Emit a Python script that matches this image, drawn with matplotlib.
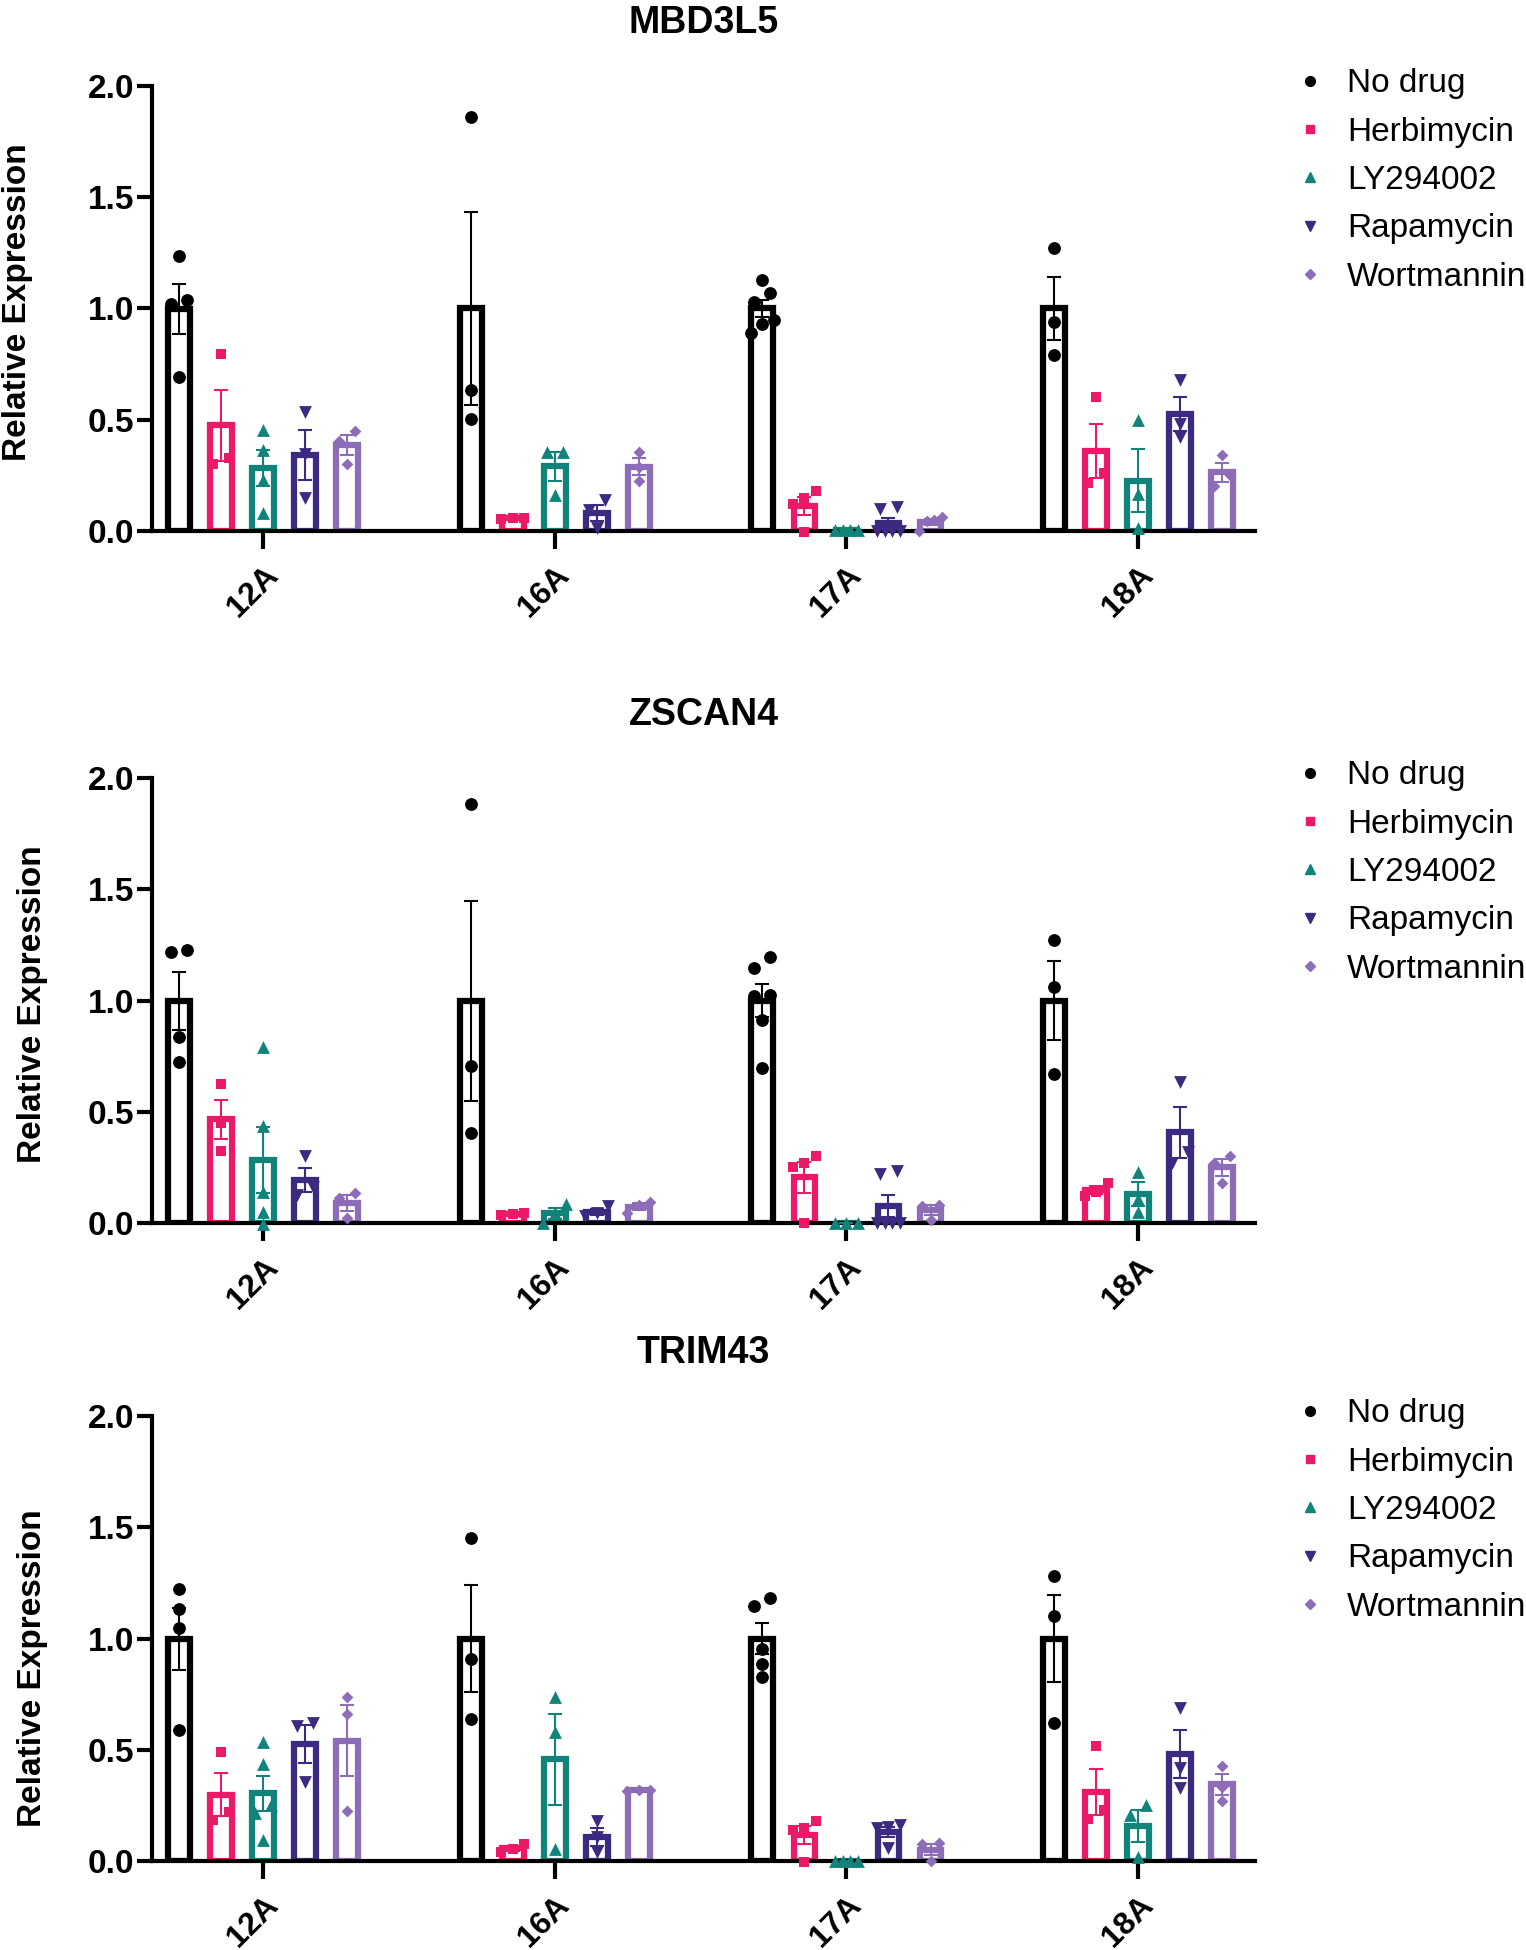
import matplotlib
matplotlib.use("Agg")
import matplotlib.pyplot as plt
from matplotlib.lines import Line2D
import numpy as np

plt.rcParams['font.family'] = ['Liberation Sans', 'DejaVu Sans']

cell_lines = ["12A", "16A", "17A", "18A"]
treatments = ["No drug", "Herbimycin", "LY294002", "Rapamycin", "Wortmannin"]
colors = ["#000000", "#EC1868", "#10837A", "#3C2A80", "#8D6DB8"]
markers = ["o", "s", "^", "v", "D"]

# replicate values per cell line (12A, 16A, 17A, 18A)
mbd3l5_no_drug = [[1.235, 1.04, 1.02, 0.69], [1.86, 0.635, 0.505],
                  [1.13, 1.07, 1.03, 0.95, 0.93, 0.89], [1.27, 0.94, 0.79]]
mbd3l5_herbimycin = [[0.795, 0.33, 0.30], [0.06, 0.055, 0.058],
                     [0.18, 0.15, 0.12, -0.005], [0.60, 0.26, 0.215]]
mbd3l5_ly294002 = [[0.455, 0.364, 0.227, 0.083], [0.356, 0.356, 0.162],
                   [0.005, 0.004, 0.006, 0.003], [0.497, 0.167, 0.015]]
mbd3l5_rapamycin = [[0.535, 0.345, 0.148], [0.139, 0.094, 0.015],
                    [0.11, 0.10, 0.0, 0.0, 0.0, 0.0], [0.677, 0.48, 0.424]]
mbd3l5_wortmannin = [[0.45, 0.406, 0.303], [0.356, 0.288, 0.225],
                     [0.065, 0.05, 0.045, 0.0], [0.34, 0.25, 0.20]]

zscan4_no_drug = [[1.216, 1.228, 0.834, 0.722], [1.884, 0.706, 0.405],
                  [1.195, 1.147, 1.026, 1.022, 0.914, 0.696], [1.27, 1.06, 0.67]]
zscan4_herbimycin = [[0.627, 0.45, 0.325], [0.045, 0.04, 0.035],
                     [0.30, 0.27, 0.25, 0.0], [0.18, 0.14, 0.12]]
zscan4_ly294002 = [[0.79, 0.436, 0.14, 0.05, -0.005], [0.085, 0.045, 0.0],
                   [0.0, 0.0, 0.0], [0.23, 0.11, 0.05]]
zscan4_rapamycin = [[0.30, 0.16, 0.125], [0.076, 0.045, 0.03],
                    [0.235, 0.22, 0.0, 0.0, 0.0, 0.0], [0.635, 0.32, 0.27]]
zscan4_wortmannin = [[0.136, 0.113, 0.023], [0.094, 0.083, 0.045],
                     [0.083, 0.076, 0.015], [0.303, 0.27, 0.179]]

trim43_no_drug = [[1.221, 1.135, 1.047, 0.589], [1.452, 0.909, 0.637],
                  [1.183, 1.146, 0.955, 0.888, 0.828], [1.28, 1.10, 0.62]]
trim43_herbimycin = [[0.49, 0.22, 0.185], [0.075, 0.055, 0.04],
                     [0.18, 0.15, 0.14, -0.005], [0.515, 0.23, 0.19]]
trim43_ly294002 = [[0.533, 0.436, 0.25, 0.215, 0.093], [0.736, 0.58, 0.056],
                   [0.0, 0.0, 0.0, 0.0], [0.253, 0.208, 0.018]]
trim43_rapamycin = [[0.62, 0.607, 0.355], [0.18, 0.11, 0.04],
                    [0.16, 0.155, 0.15, 0.06], [0.69, 0.42, 0.33]]
trim43_wortmannin = [[0.736, 0.663, 0.226], [0.32, 0.32, 0.315],
                     [0.08, 0.075, 0.0], [0.428, 0.335, 0.27]]

genes = [
    ("MBD3L5", [mbd3l5_no_drug, mbd3l5_herbimycin, mbd3l5_ly294002, mbd3l5_rapamycin, mbd3l5_wortmannin]),
    ("ZSCAN4", [zscan4_no_drug, zscan4_herbimycin, zscan4_ly294002, zscan4_rapamycin, zscan4_wortmannin]),
    ("TRIM43", [trim43_no_drug, trim43_herbimycin, trim43_ly294002, trim43_rapamycin, trim43_wortmannin]),
]

scatter_sizes = [85, 60, 85, 85, 36]
legend_sizes = [7, 6, 7, 7, 5]


def spread(vals, dy=0.05):
    # horizontal offsets so overlapping points sit side by side
    vals = np.asarray(vals, dtype=float)
    order = np.argsort(vals)
    offs = np.zeros(len(vals))
    cluster = [order[0]]
    clusters = []
    for a, b in zip(order[:-1], order[1:]):
        if vals[b] - vals[a] < dy:
            cluster.append(b)
        else:
            clusters.append(cluster)
            cluster = [b]
    clusters.append(cluster)
    for c in clusters:
        n = len(c)
        if n < 2:
            continue
        step = min(0.055, 0.08 / (n - 1))
        for k, idx in enumerate(c):
            offs[idx] = (k - (n - 1) / 2) * step
    return offs


fig = plt.figure(figsize=(15.26, 19.5), dpi=100)
bottoms = [0.7277, 0.3728, 0.0456]
label_x = [-0.122, -0.108, -0.108]
label_y = [0.515, 0.492, 0.434]
bar_gap = 0.144

for p, (gene, series) in enumerate(genes):
    ax = fig.add_axes([0.0996, bottoms[p], 0.7228, 0.2282])
    x = np.arange(len(cell_lines))
    for t, vals in enumerate(series):
        xs = x + (t - 2) * bar_gap
        means = [np.mean(v) for v in vals]
        sems = [np.std(v, ddof=1) / np.sqrt(len(v)) for v in vals]
        ax.bar(xs, means, width=0.075, color="white", edgecolor=colors[t],
               linewidth=4.5, zorder=2)
        ax.errorbar(xs, means, yerr=sems, fmt="none", ecolor=colors[t],
                    elinewidth=1.5, capsize=5, capthick=1.5, zorder=3)
        for i, v in enumerate(vals):
            ax.scatter(xs[i] + spread(v), v, marker=markers[t], s=scatter_sizes[t],
                       color=colors[t], linewidths=0, zorder=4, clip_on=False)

    ax.set_xlim(-0.38, 3.40)
    ax.set_ylim(0, 2.0)
    ax.set_yticks([0, 0.5, 1.0, 1.5, 2.0])
    ax.set_yticklabels(["0.0", "0.5", "1.0", "1.5", "2.0"], fontweight="bold")
    ax.set_xticks(x)
    ax.set_xticklabels(cell_lines, rotation=45, ha="right", va="top",
                       rotation_mode="anchor", fontweight="bold")
    ax.tick_params(axis="y", length=11, width=3, labelsize=24, pad=2)
    ax.tick_params(axis="x", length=13, width=3, labelsize=23, pad=8)
    for s in ["top", "right"]:
        ax.spines[s].set_visible(False)
    for s in ["left", "bottom"]:
        ax.spines[s].set_linewidth(3)

    ax.set_title(gene, fontsize=27, fontweight="bold", pad=38)
    ax.set_ylabel("Relative Expression", fontsize=24, fontweight="bold")
    ax.yaxis.set_label_coords(label_x[p], label_y[p])
    ax.yaxis.label.set_va("center")

    handles = [Line2D([0], [0], marker=markers[t], color=colors[t], linestyle="none",
                      markersize=legend_sizes[t]) for t in range(len(treatments))]
    ax.legend(handles, treatments, loc="upper left", bbox_to_anchor=(1.038, 1.040),
              frameon=False, fontsize=24, handlelength=0.8, handletextpad=0.7,
              labelspacing=0.52, borderpad=0, borderaxespad=0)

fig.savefig("out.png", dpi=100)
